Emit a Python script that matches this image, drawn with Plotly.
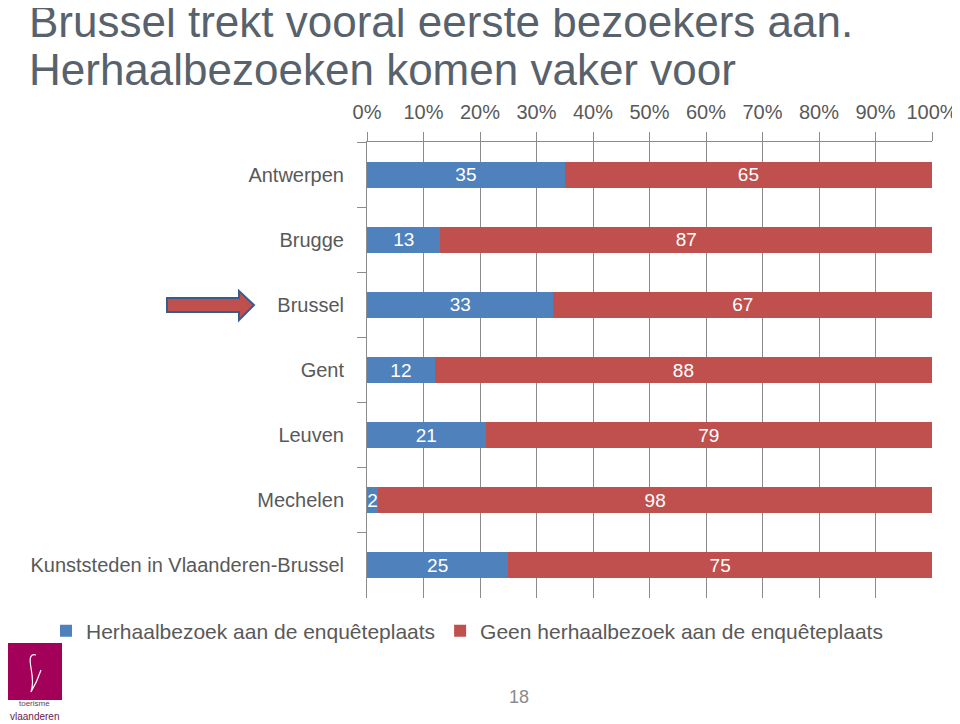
import plotly.graph_objects as go

categories = ["Antwerpen", "Brugge", "Brussel", "Gent", "Leuven", "Mechelen",
              "Kunststeden in Vlaanderen-Brussel"]
herhaal = [35, 13, 33, 12, 21, 2, 25]
geen = [65, 87, 67, 88, 79, 98, 75]
series_names = ["Herhaalbezoek aan de enquêteplaats", "Geen herhaalbezoek aan de enquêteplaats"]
tick_vals = [0, 10, 20, 30, 40, 50, 60, 70, 80, 90, 100]
tick_text = [f"{v}%" for v in tick_vals]

# the page body has an 8px margin; work in page pixels and convert
OFF = 8
W, H = 960 - OFF, 724 - OFF
PL, PR, PT, PB = 367, 932, 142, 598          # plot area in page pixels
L, R, T, B = PL - OFF, PR - OFF, PT - OFF, PB - OFF
FONT = "Liberation Sans, Arial, sans-serif"
GRID = "#8c8c8c"
TXT = "#595959"


def px(x):
    return (x - PL) / (PR - PL)


def py(y):
    return (PB - y) / (PB - PT)


fig = go.Figure()
fig.add_trace(go.Bar(
    y=categories, x=herhaal, orientation="h", name=series_names[0],
    marker=dict(color="#4f81bd", line=dict(width=0)),
    text=herhaal, texttemplate="%{x}", textposition="inside",
    insidetextanchor="middle", constraintext="none",
    textfont=dict(color="white", size=19, family=FONT),
))
fig.add_trace(go.Bar(
    y=categories, x=geen, orientation="h", name=series_names[1],
    marker=dict(color="#c0504d", line=dict(width=0)),
    text=geen, texttemplate="%{x}", textposition="inside",
    insidetextanchor="middle", constraintext="none",
    textfont=dict(color="white", size=19, family=FONT),
))

shapes = []
# arrow pointing at Brussel
ax = [167, 239, 239, 254, 239, 239, 167]
ay = [298, 298, 291, 305, 320, 312, 312]
path = "M " + " L ".join(f"{px(a)},{py(b)}" for a, b in zip(ax, ay)) + " Z"
shapes.append(dict(type="path", xref="paper", yref="paper", path=path,
                   fillcolor="#c0504d", line=dict(color="#385d8a", width=2)))
# logo square
shapes.append(dict(type="rect", xref="paper", yref="paper",
                   x0=px(5), x1=px(62), y0=py(700), y1=py(643),
                   fillcolor="#a3005a", line=dict(width=0), layer="above"))
# stylised "f" in logo
fpath = (f"M {px(36)},{py(655)} Q {px(28)},{py(652)} {px(31)},{py(668)} "
         f"Q {px(34)},{py(684)} {px(31)},{py(692)} Q {px(37)},{py(682)} {px(41)},{py(670)}")
shapes.append(dict(type="path", xref="paper", yref="paper", path=fpath,
                   line=dict(color="white", width=1.2), layer="above"))

annotations = [
    dict(text="Brussel trekt vooral eerste bezoekers aan.", xref="paper", yref="paper",
         x=px(27), y=py(48), xanchor="left", yanchor="bottom", showarrow=False,
         font=dict(family=FONT, size=44, color="#58626c")),
    dict(text="Herhaalbezoeken komen vaker voor", xref="paper", yref="paper",
         x=px(27), y=py(96), xanchor="left", yanchor="bottom", showarrow=False,
         font=dict(family=FONT, size=44, color="#58626c")),
    dict(text="toerisme", xref="paper", yref="paper", x=px(34), y=py(703),
         xanchor="center", yanchor="middle", showarrow=False, borderpad=0,
         font=dict(family=FONT, size=8, color="#6b3b55")),
    dict(text="vlaanderen", xref="paper", yref="paper", x=px(34), y=py(716),
         xanchor="center", yanchor="middle", showarrow=False, borderpad=0,
         font=dict(family=FONT, size=10, color="#6b2050")),
    dict(text="18", xref="paper", yref="paper", x=px(519), y=py(697),
         xanchor="center", yanchor="middle", showarrow=False,
         font=dict(family=FONT, size=18, color="#8c8c8c")),
]

fig.update_layout(
    width=W, height=H,
    margin=dict(l=L, r=W - R, t=T, b=H - B, pad=0, autoexpand=False),
    paper_bgcolor="white", plot_bgcolor="white",
    barmode="stack", bargap=0.6,
    font=dict(family=FONT, size=20, color=TXT),
    showlegend=True,
    legend=dict(orientation="h", xref="paper", yref="paper",
                x=px(46), y=py(631), xanchor="left", yanchor="middle",
                font=dict(family=FONT, size=21, color=TXT),
                bgcolor="rgba(0,0,0,0)", traceorder="normal"),
    shapes=shapes, annotations=annotations,
    uniformtext=dict(mode=False),
)
fig.update_xaxes(
    side="top", range=[0, 100], tickvals=tick_vals, ticktext=tick_text,
    showgrid=True, gridcolor=GRID, gridwidth=1,
    showline=True, linecolor=GRID, linewidth=1,
    ticks="outside", ticklen=9, tickcolor=GRID, ticklabelstandoff=5,
    tickfont=dict(family=FONT, size=20, color=TXT),
    zeroline=False, fixedrange=True, automargin=False,
)
fig.update_yaxes(
    autorange="reversed", showgrid=False,
    showline=True, linecolor=GRID, linewidth=1,
    ticks="outside", ticklen=9, tickcolor=GRID, tickson="boundaries",
    ticklabelstandoff=18,
    tickfont=dict(family=FONT, size=20, color=TXT),
    fixedrange=True, automargin=False,
)

fig.write_html("out.html")
